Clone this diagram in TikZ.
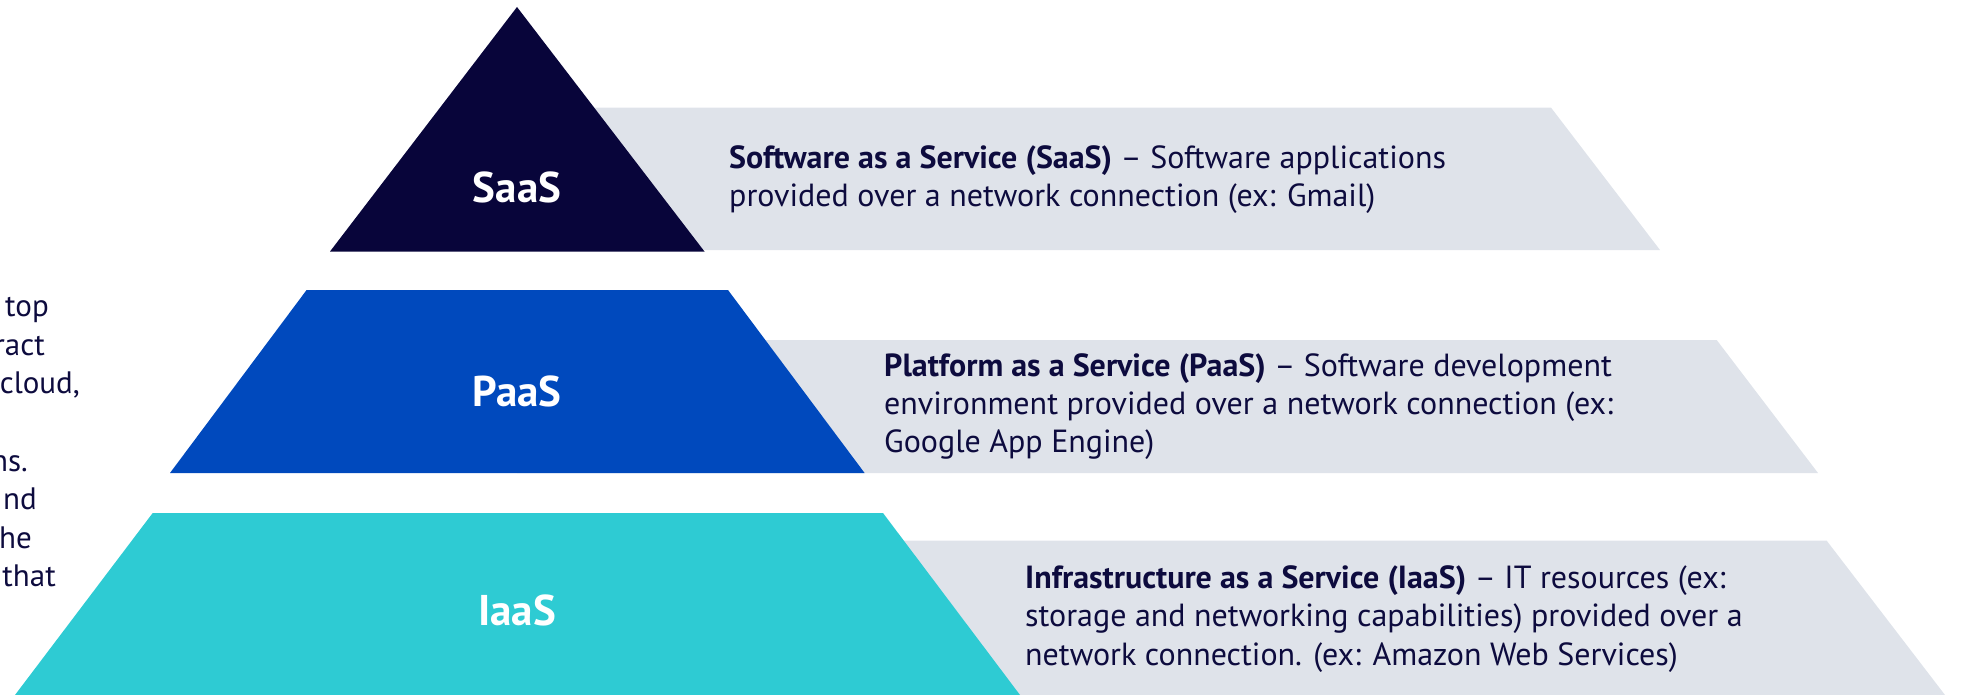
\documentclass[tikz,border=0pt]{standalone}
\usepackage{fontspec}
\setmainfont{PT Sans}
\definecolor{navy}{HTML}{08053A}
\definecolor{royal}{HTML}{0049BD}
\definecolor{aqua}{HTML}{2ECBD3}
\definecolor{band}{HTML}{DFE3EA}
\definecolor{ink}{HTML}{0D0B3E}
\begin{document}
\begin{tikzpicture}[x=1pt,y=-1pt,
  tierlabel/.style={text=white, inner sep=0, anchor=base,
    font=\fontsize{43}{50}\selectfont\bfseries},
  desc/.style={text=ink, inner sep=0, anchor=base west, align=left,
    font=\fontsize{32}{38.3}\selectfont},
  sidetext/.style={text=ink, inner sep=0, anchor=base east,
    font=\fontsize{31}{38.3}\selectfont}]
\useasboundingbox (0,0) rectangle (1962,695);
\clip (0,0) rectangle (1962,695);

% grey description bands, behind the tiers
\fill[band] (517,107.6) -- (1551,107.6) -- (1660,250) -- (517,250) -- cycle;
\fill[band] (517,340) -- (1716.7,340) -- (1818,473) -- (517,473) -- cycle;
\fill[band] (517,540.7) -- (1826.7,540.7) -- (1945,695) -- (517,695) -- cycle;

% pyramid tiers
\fill[navy] (517,7) -- (704.5,251.5) -- (330,251.5) -- cycle;
\fill[royal] (306.6,290) -- (728,290) -- (864.6,473) -- (170,473) -- cycle;
\fill[aqua] (152.7,513) -- (883,513) -- (1020,695) -- (15,695) -- cycle;

% tier names
\node[tierlabel] (saas) at (517,203) {SaaS};
\node[tierlabel] (paas) at (517,406) {PaaS};
\node[tierlabel] (iaas) at (517,625) {IaaS};

% descriptions (anchored at the baseline of their last line)
\node[desc] (saasdesc) at (729,207) {\textbf{Software as a Service (SaaS)} – Software applications\\
provided over a network connection (ex: Gmail)};
\node[desc] (paasdesc) at (884,452.6) {\textbf{Platform as a Service (PaaS)} – Software development\\
environment provided over a network connection (ex:\\
Google App Engine)};
\node[desc] (iaasdesc) at (1025,665) {\textbf{Infrastructure as a Service (IaaS)} – IT resources (ex:\\
storage and networking capabilities) provided over a\\
network connection. (ex: Amazon Web Services)};

% paragraph running in from the left edge
\node[sidetext] (l1) at (49,316.7) {top};
\node[sidetext] (l2) at (45,355.3) {ract};
\node[sidetext] (l3) at (80,393.9) {cloud,};
\node[sidetext] (l4) at (28,471.1) {ns.};
\node[sidetext] (l5) at (37,509.7) {nd};
\node[sidetext] (l6) at (32,548.3) {he};
\node[sidetext] (l7) at (56,586.9) {that};
\end{tikzpicture}
\end{document}
